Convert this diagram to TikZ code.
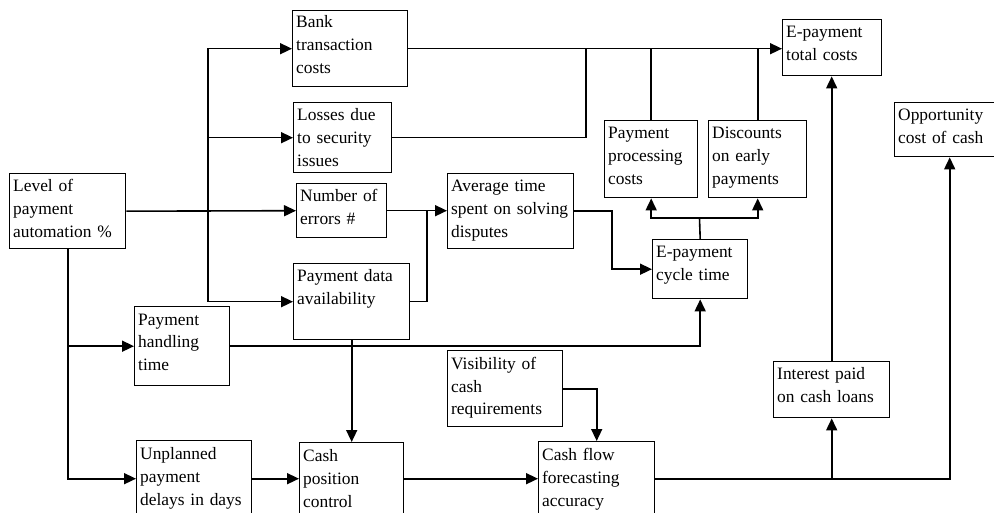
\documentclass[tikz,border=0pt]{standalone}
\usepackage{fontspec}
\setmainfont{Liberation Serif}
\usetikzlibrary{arrows.meta}
\newcommand\diagfs{\fontsize{17.4}{23}\selectfont}
\begin{document}
\begin{tikzpicture}[x=1pt,y=-1pt,
  box/.style={draw, line width=1.4pt, inner sep=0pt, anchor=north west},
  txt/.style={font=\diagfs, align=left, inner sep=0pt, anchor=base west, text width=160pt},
  ln/.style={line width=1.6pt},
  arr/.style={ln, -{Triangle[length=12pt,width=11pt]}}]
\useasboundingbox (0,0) rectangle (994,513);
\clip (0,0) rectangle (994,513);
\fill[white] (0,0) rectangle (994,513);
% boxes
\node[box, minimum width=116pt, minimum height=75pt] (level) at (9,173) {};
\node[txt] (level-t) at (13,192) {Level of\\payment\\automation \%};
\node[box, minimum width=115pt, minimum height=76pt] (bank) at (292,10) {};
\node[txt] (bank-t) at (296,28) {Bank\\transaction\\costs};
\node[box, minimum width=98pt, minimum height=70pt] (loss) at (293,102) {};
\node[txt] (loss-t) at (297,121) {Losses due\\to security\\issues};
\node[box, minimum width=90pt, minimum height=54pt] (err) at (296,183) {};
\node[txt] (err-t) at (300,202) {Number of\\errors \#};
\node[box, minimum width=116pt, minimum height=76pt] (avail) at (293,263) {};
\node[txt] (avail-t) at (297,282) {Payment data\\availability};
\node[box, minimum width=95pt, minimum height=79pt] (handl) at (134,306) {};
\node[txt] (handl-t) at (138,325) {Payment\\handling\\time};
\node[box, minimum width=115pt, minimum height=76pt] (delay) at (136,440) {};
\node[txt] (delay-t) at (140,459) {Unplanned\\payment\\delays in days};
\node[box, minimum width=104pt, minimum height=74pt] (cashpos) at (299,442) {};
\node[txt] (cashpos-t) at (303,461) {Cash\\position\\control};
\node[box, minimum width=115pt, minimum height=76pt] (vis) at (447,350) {};
\node[txt] (vis-t) at (451,369) {Visibility of\\cash\\requirements};
\node[box, minimum width=126pt, minimum height=75pt] (avg) at (447,173) {};
\node[txt] (avg-t) at (451,192) {Average time\\spent on solving\\disputes};
\node[box, minimum width=116pt, minimum height=75pt] (flow) at (538,441) {};
\node[txt] (flow-t) at (542,460) {Cash flow\\forecasting\\accuracy};
\node[box, minimum width=93pt, minimum height=77pt] (proc) at (604,120) {};
\node[txt] (proc-t) at (608,139) {Payment\\processing\\costs};
\node[box, minimum width=98pt, minimum height=77pt] (disc) at (708,120) {};
\node[txt] (disc-t) at (712,139) {Discounts\\on early\\payments};
\node[box, minimum width=99pt, minimum height=56pt] (total) at (782,19) {};
\node[txt] (total-t) at (786,37.5) {E-payment\\total costs};
\node[box, minimum width=110pt, minimum height=54pt] (opp) at (894,102) {};
\node[txt] (opp-t) at (898,120.5) {Opportunity\\cost of cash};
\node[box, minimum width=95pt, minimum height=59pt] (cyc) at (652,239) {};
\node[txt] (cyc-t) at (656,257.5) {E-payment\\cycle time};
\node[box, minimum width=116pt, minimum height=56pt] (intr) at (773,361) {};
\node[txt] (intr-t) at (777,379.5) {Interest paid\\on cash loans};
% junction coordinates
\coordinate (t1) at (208,210.5);
\coordinate (j2) at (586,48);
\coordinate (j3) at (427,210.5);
\coordinate (j4) at (612,240);
\coordinate (j5) at (699.5,218);
% connectors
\draw[arr] (level.east) -- (err.west);
\draw[arr] (t1) |- (bank.west);
\draw[arr] (t1) |- (loss.west);
\draw[arr] (t1) |- (avail.west);
\draw[arr] (level.south) |- (handl.west);
\draw[arr] (level.south) |- (delay.west);
\draw[arr] (handl.east) -| (cyc.south);
\draw[arr] (bank.east) -- (total.west |- bank.east);
\draw[ln] (loss.east) -| (j2);
\draw[ln] (proc.north) -- (proc.north |- bank.east);
\draw[ln] (disc.north) -- (disc.north |- bank.east);
\draw[arr] (err.east) -- (avg.west |- err.east);
\draw[ln] (avail.east) -| (j3);
\draw[arr] (avg.east) -| (j4) |- (cyc.west);
\draw[ln] (cyc.north) -- (j5);
\draw[arr] (j5) -| (proc.south);
\draw[arr] (j5) -| (disc.south);
\draw[arr] (avail.south) -- (cashpos.north);
\draw[arr] (delay.east) -- (cashpos.west |- delay.east);
\draw[arr] (cashpos.east |- delay.east) -- (flow.west |- delay.east);
\draw[arr] (vis.east) -| (flow.north);
\draw[arr] (flow.east |- delay.east) -| (intr.south);
\draw[arr] (flow.east |- delay.east) -| (opp.south);
\draw[arr] (intr.north) -- (intr.north |- total.south);
\end{tikzpicture}
\end{document}
